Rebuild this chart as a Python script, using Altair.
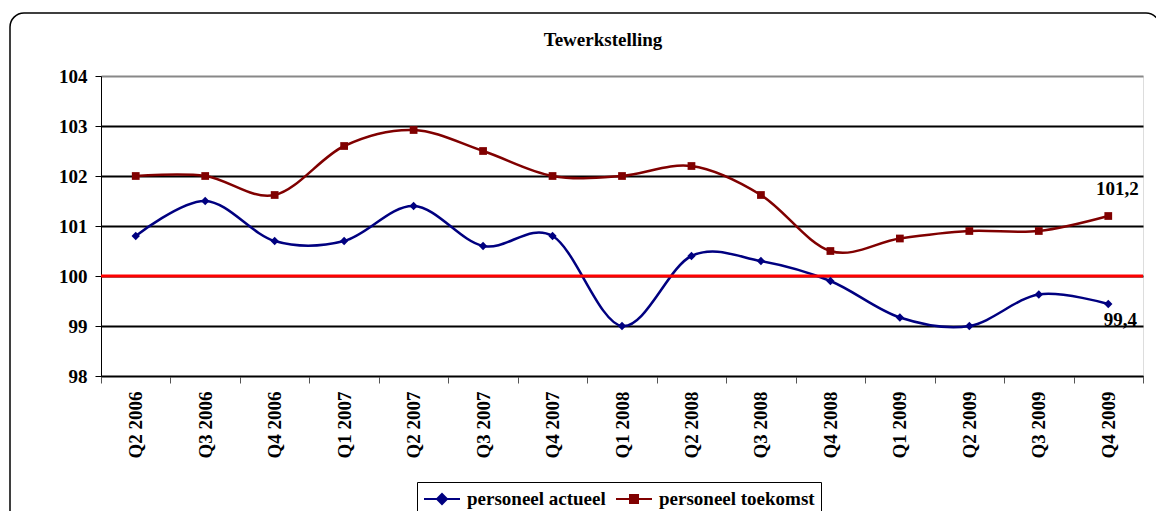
import altair as alt
import pandas as pd

quarters = ["Q2 2006", "Q3 2006", "Q4 2006", "Q1 2007", "Q2 2007", "Q3 2007", "Q4 2007",
            "Q1 2008", "Q2 2008", "Q3 2008", "Q4 2008", "Q1 2009", "Q2 2009", "Q3 2009", "Q4 2009"]
actueel = [100.8, 101.5, 100.7, 100.7, 101.4, 100.6, 100.8, 99.0, 100.4, 100.3, 99.9, 99.17, 99.0, 99.63, 99.44]
toekomst = [102.0, 102.0, 101.62, 102.6, 102.92, 102.5, 102.0, 102.0, 102.2, 101.62, 100.5, 100.75, 100.9, 100.9, 101.2]
series_names = ["personeel actueel", "personeel toekomst"]
series_colors = ["#000080", "#800000"]
legend_shapes = [
    "M-1.8,0H1.8M0,-0.5L0.5,0L0,0.5L-0.5,0ZM0,-0.25L0.25,0L0,0.25L-0.25,0Z",
    "M-1.8,0H1.8M-0.4,-0.4H0.4V0.4H-0.4ZM-0.2,-0.2H0.2V0.2H-0.2Z",
]
y_ticks = [98, 99, 100, 101, 102, 103, 104]
ref_value = [100]
title_text = ["Tewerkstelling"]

rows = []
for q, a, t in zip(quarters, actueel, toekomst):
    rows.append({"kwartaal": q, "reeks": series_names[0], "waarde": a})
    rows.append({"kwartaal": q, "reeks": series_names[1], "waarde": t})
df = pd.DataFrame(rows)

FONT = "Liberation Serif"
FS = 19

x_enc = alt.X(
    "kwartaal:N", sort=quarters,
    scale=alt.Scale(paddingInner=0, paddingOuter=0),
    axis=alt.Axis(title=None, labelAngle=-90, tickBand="extent", labelFont=FONT,
                  labelFontSize=FS, labelFontWeight="bold", labelColor="black",
                  labelPadding=8, tickSize=7, tickColor="#555", domainColor="black",
                  grid=False),
)
y_enc = alt.Y(
    "waarde:Q",
    scale=alt.Scale(domain=[98, 104], nice=False, zero=False),
    axis=alt.Axis(title=None, values=y_ticks, labelFont=FONT, labelFontSize=FS,
                  labelFontWeight="bold", labelColor="black", labelPadding=8,
                  tickSize=6, tickColor="black", domainColor="black", grid=True,
                  gridColor={"condition": {"test": "datum.value === 104", "value": "#888"},
                             "value": "black"},
                  gridWidth=2),
)
color_scale = alt.Scale(domain=series_names, range=series_colors)

base = alt.Chart(df)

frame = alt.Chart(alt.Data(values=[{}])).mark_rect(
    fillOpacity=0, stroke="black", strokeWidth=1.5, cornerRadius=14
).encode(x=alt.value(-91), x2=alt.value(1059), y=alt.value(-63), y2=alt.value(480))

title = alt.Chart(pd.DataFrame({"t": title_text})).mark_text(
    font=FONT, fontSize=FS, fontWeight="bold", color="black", align="center",
    baseline="alphabetic"
).encode(x=alt.value(502), y=alt.value(-30), text="t:N")

ref_rule = alt.Chart(pd.DataFrame({"waarde": ref_value})).mark_rule(
    color="#ff0000", strokeWidth=3
).encode(y=y_enc)

line_a = base.transform_filter(alt.datum.reeks == series_names[0]).mark_line(
    interpolate="cardinal", strokeWidth=2.5, color=series_colors[0]
).encode(x=x_enc, y=y_enc)
line_t = base.transform_filter(alt.datum.reeks == series_names[1]).mark_line(
    interpolate="cardinal", strokeWidth=2.5, color=series_colors[1]
).encode(x=x_enc, y=y_enc)

pts_a = base.transform_filter(alt.datum.reeks == series_names[0]).mark_point(
    shape="diamond", filled=True, size=70, color=series_colors[0], opacity=1
).encode(x=x_enc, y=y_enc)
pts_t = base.transform_filter(alt.datum.reeks == series_names[1]).mark_point(
    shape="square", filled=True, size=60, color=series_colors[1], opacity=1
).encode(x=x_enc, y=y_enc)

last_q = quarters[-1]
lbl_t = base.transform_filter(
    (alt.datum.kwartaal == last_q) & (alt.datum.reeks == series_names[1])
).transform_calculate(
    lbl="replace(format(datum.waarde, '.1f'), '.', ',')"
).mark_text(dx=9, dy=-21, baseline="alphabetic", font=FONT, fontSize=FS,
            fontWeight="bold", color="black").encode(x=x_enc, y=y_enc, text="lbl:N")
lbl_a = base.transform_filter(
    (alt.datum.kwartaal == last_q) & (alt.datum.reeks == series_names[0])
).transform_calculate(
    lbl="replace(format(datum.waarde, '.1f'), '.', ',')"
).mark_text(dx=12, dy=22, baseline="alphabetic", font=FONT, fontSize=FS,
            fontWeight="bold", color="black").encode(x=x_enc, y=y_enc, text="lbl:N")

leg = alt.Legend(orient="none", legendX=316, legendY=406, direction="horizontal",
                 title=None, labelFont=FONT, labelFontSize=FS, labelFontWeight="bold",
                 labelColor="black", strokeColor="black", fillColor="white", padding=6,
                 symbolSize=400, symbolStrokeWidth=2, symbolOffset=8, columnPadding=6,
                 labelOffset=14)
legend_layer = alt.Chart(df).transform_filter("false").mark_point(
    filled=False, size=400, strokeWidth=2, opacity=1
).encode(
    color=alt.Color("reeks:N", scale=color_scale, legend=leg),
    shape=alt.Shape("reeks:N", scale=alt.Scale(domain=series_names, range=legend_shapes), legend=leg),
)

chart = alt.layer(frame, title, line_a, line_t, ref_rule, pts_a, pts_t, lbl_t, lbl_a, legend_layer).properties(
    width=1042, height=300,
    autosize=alt.AutoSizeParams(type="none"),
    padding={"left": 93, "top": 68, "right": 13, "bottom": 150},
).configure_view(stroke="#999", strokeWidth=1).configure(background="white")

chart.save("out.html", embed_options={"renderer": "svg", "actions": False})
